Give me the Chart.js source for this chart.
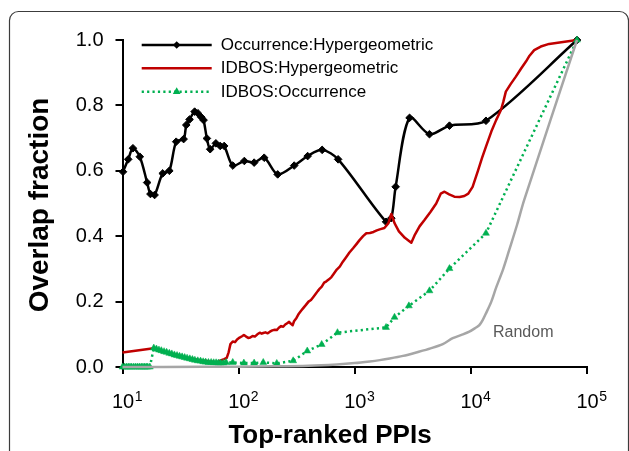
<!DOCTYPE html>
<html><head><meta charset="utf-8">
<script src="https://cdn.jsdelivr.net/npm/chart.js@4"></script>
<style>html,body{margin:0;padding:0;background:#fff;}canvas{display:block;}</style>
</head><body>
<canvas id="c" width="629" height="451"></canvas>
<script>
// ---------- DATA ----------
const seriesNames = ['Occurrence:Hypergeometric', 'IDBOS:Hypergeometric', 'IDBOS:Occurrence', 'Random'];
const xTitle = 'Top-ranked PPIs';
const yTitle = 'Overlap fraction';
const randomLabel = 'Random';
const xTickValues = [10, 100, 1000, 10000, 100000];
const xTickBase = '10';
const xTickExps = ['1', '2', '3', '4', '5'];
const yTickValues = [0, 0.2, 0.4, 0.6, 0.8, 1.0];

const occHypX = [10.1, 11.2, 12.3, 14.1, 16.3, 17.4, 18.9, 22.2, 25.3, 29.0, 33.6, 35.4, 37.8, 41.8, 44.6, 47.7, 49.9, 53.3, 56.9, 63.7, 69.4, 75.1, 89.2, 112, 136, 166, 217, 301, 393, 524, 719, 1860, 2065, 2250, 2965, 4400, 6540, 13490, 82000];
const occHypY = [0.597, 0.635, 0.669, 0.643, 0.564, 0.529, 0.526, 0.592, 0.600, 0.689, 0.697, 0.740, 0.757, 0.781, 0.776, 0.764, 0.755, 0.699, 0.666, 0.684, 0.676, 0.676, 0.616, 0.630, 0.625, 0.640, 0.589, 0.616, 0.645, 0.664, 0.635, 0.444, 0.455, 0.551, 0.762, 0.712, 0.738, 0.753, 1.0];

const idbosHypX = [10, 18.6, 20, 22, 24, 26, 28, 30, 33, 36, 40, 44, 48, 52, 56, 60, 65, 70, 75, 79, 82, 85, 89, 93, 97, 102, 107, 111, 116, 121, 126, 132, 138, 145, 152, 158, 163, 170, 178, 186, 195, 205, 213, 222, 232, 242, 252, 262, 272, 282, 292, 300, 315, 330, 345, 360, 380, 400, 420, 440, 460, 480, 500, 520, 545, 570, 600, 630, 660, 700, 743, 790, 840, 900, 967, 1030, 1100, 1180, 1258, 1350, 1450, 1550, 1640, 1800, 1950, 2065, 2200, 2400, 2700, 3070, 3300, 3615, 4000, 4500, 5030, 5500, 5930, 6500, 7210, 8000, 8790, 9500, 10350, 11500, 12500, 13490, 15000, 16500, 18150, 19000, 20000, 22000, 24400, 27000, 29800, 32000, 35100, 40000, 47200, 60000, 82000];
const idbosHypY = [0.044, 0.057, 0.052, 0.047, 0.045, 0.041, 0.038, 0.036, 0.031, 0.028, 0.025, 0.022, 0.020, 0.019, 0.017, 0.016, 0.014, 0.020, 0.024, 0.028, 0.045, 0.070, 0.078, 0.076, 0.084, 0.090, 0.094, 0.098, 0.093, 0.089, 0.090, 0.095, 0.093, 0.100, 0.105, 0.102, 0.104, 0.106, 0.103, 0.108, 0.112, 0.114, 0.113, 0.120, 0.125, 0.123, 0.130, 0.134, 0.138, 0.132, 0.128, 0.140, 0.150, 0.163, 0.172, 0.180, 0.190, 0.200, 0.205, 0.214, 0.223, 0.232, 0.240, 0.246, 0.258, 0.262, 0.268, 0.275, 0.285, 0.298, 0.307, 0.322, 0.335, 0.350, 0.363, 0.375, 0.388, 0.400, 0.409, 0.410, 0.413, 0.418, 0.421, 0.425, 0.440, 0.468, 0.440, 0.415, 0.395, 0.380, 0.405, 0.430, 0.450, 0.475, 0.500, 0.530, 0.536, 0.528, 0.521, 0.520, 0.523, 0.530, 0.551, 0.600, 0.640, 0.674, 0.720, 0.755, 0.786, 0.810, 0.842, 0.865, 0.888, 0.912, 0.934, 0.952, 0.969, 0.980, 0.988, 0.993, 1.0];

const idbosOccX = [10, 10.4, 10.8, 11.2, 11.6, 12, 12.5, 13, 13.5, 14, 14.5, 15, 15.5, 16, 16.5, 17.2, 18.6, 19.6, 20.6, 21.6, 22.8, 24, 25.3, 26.6, 28, 29.5, 31, 32.6, 34.3, 36, 38, 40, 42, 44.5, 47, 49.5, 52, 55, 58, 61, 64, 67, 70, 74, 78, 89, 111, 136, 163, 213, 295, 390, 519, 710, 1860, 2200, 2925, 4400, 6540, 13490, 82000];
const idbosOccY = [0, 0, 0, 0, 0, 0, 0, 0, 0, 0, 0, 0, 0, 0, 0, 0, 0.058, 0.055, 0.052, 0.050, 0.047, 0.045, 0.042, 0.040, 0.037, 0.035, 0.033, 0.031, 0.029, 0.027, 0.025, 0.023, 0.021, 0.019, 0.018, 0.016, 0.015, 0.014, 0.014, 0.013, 0.013, 0.012, 0.012, 0.012, 0.014, 0.014, 0.012, 0.012, 0.014, 0.011, 0.019, 0.049, 0.069, 0.105, 0.121, 0.152, 0.187, 0.233, 0.301, 0.409, 1.0];

const randomX = [10, 50, 100, 200, 400, 700, 1000, 1346, 1640, 2000, 2600, 3500, 4500, 5730, 6980, 8300, 9700, 11000, 11830, 12700, 13490, 15000, 16440, 19000, 21400, 25000, 28800, 82000];
const randomY = [0, 0.0005, 0.001, 0.002, 0.004, 0.008, 0.012, 0.017, 0.021, 0.026, 0.034, 0.046, 0.057, 0.070, 0.088, 0.098, 0.108, 0.120, 0.128, 0.145, 0.164, 0.200, 0.241, 0.300, 0.358, 0.435, 0.511, 1.0];

// ---------- STYLE ----------
const FONT = '"Liberation Sans", Arial, Helvetica, sans-serif';
const colBlack = '#000000', colRed = '#C00000', colGreen = '#00B050', colGray = '#A6A6A6';

const pts = (xs, ys) => xs.map((x, i) => ({x: x, y: ys[i]}));

const decor = {
  id: 'decor',
  beforeDraw(chart) {
    const ctx = chart.ctx;
    ctx.save();
    ctx.fillStyle = '#fff';
    ctx.fillRect(0, 0, chart.width, chart.height);
    ctx.strokeStyle = '#3c3c3c';
    ctx.lineWidth = 1.2;
    ctx.beginPath();
    ctx.moveTo(9.5, 470);
    ctx.lineTo(9.5, 21);
    ctx.arcTo(9.5, 11.5, 19, 11.5, 9);
    ctx.lineTo(619, 11.5);
    ctx.arcTo(628.5, 11.5, 628.5, 21, 9);
    ctx.lineTo(628.5, 470);
    ctx.stroke();
    ctx.restore();
  },
  afterDraw(chart) {
    const ctx = chart.ctx, xs = chart.scales.x;
    ctx.save();
    ctx.fillStyle = '#000';
    ctx.textBaseline = 'alphabetic';
    ctx.textAlign = 'left';
    xTickValues.forEach((v, i) => {
      const px = xs.getPixelForValue(v);
      ctx.font = '20px ' + FONT;
      const x0 = px - 10.5;
      ctx.fillText(xTickBase, x0, 408);
      const w = ctx.measureText(xTickBase).width;
      ctx.font = '14px ' + FONT;
      ctx.fillText(xTickExps[i], x0 + w + 0.5, 400.5);
    });
    // axis titles
    ctx.textAlign = 'center';
    ctx.font = 'bold 26px ' + FONT;
    ctx.fillText(xTitle, 330, 443);
    ctx.save();
    ctx.translate(47.5, 205);
    ctx.rotate(-Math.PI / 2);
    ctx.font = 'bold 28px ' + FONT;
    ctx.fillText(yTitle, 0, 0);
    ctx.restore();
    // Random label
    ctx.font = '16px ' + FONT;
    ctx.fillStyle = '#595959';
    ctx.textAlign = 'left';
    ctx.fillText(randomLabel, 493, 337);
    // legend
    const lx0 = 141.7, lx1 = 211.7, mx = 176.7, tx = 220.7;
    const rows = [45, 68.3, 91.7];
    for (let i = 0; i < 3; i++) {
      const ds = chart.data.datasets[i];
      const y = rows[i];
      ctx.save();
      ctx.strokeStyle = ds.borderColor;
      ctx.lineWidth = ds.borderWidth;
      ctx.setLineDash(ds.borderDash || []);
      ctx.beginPath();
      ctx.moveTo(lx0, y);
      ctx.lineTo(lx1, y);
      ctx.stroke();
      ctx.setLineDash([]);
      ctx.fillStyle = ds.borderColor;
      if (ds.pointStyle === 'rectRot') {
        const r = 3.8;
        ctx.beginPath();
        ctx.moveTo(mx, y - r); ctx.lineTo(mx + r, y); ctx.lineTo(mx, y + r); ctx.lineTo(mx - r, y);
        ctx.closePath(); ctx.fill();
      } else if (ds.pointStyle === 'triangle') {
        const r = 4.5;
        ctx.beginPath();
        ctx.moveTo(mx, y - r);
        ctx.lineTo(mx + r * 0.866, y + r * 0.5);
        ctx.lineTo(mx - r * 0.866, y + r * 0.5);
        ctx.closePath(); ctx.fill();
      }
      ctx.restore();
      ctx.font = '17px ' + FONT;
      ctx.fillStyle = '#000';
      ctx.textBaseline = 'middle';
      ctx.fillText(ds.label, tx, y + 0.5);
    }
    ctx.restore();
  }
};

new Chart(document.getElementById('c'), {
  type: 'line',
  data: {
    datasets: [
      {label: seriesNames[0], data: pts(occHypX, occHypY), borderColor: colBlack, backgroundColor: colBlack, borderWidth: 2.5,
       pointStyle: 'rectRot', pointRadius: 3.8, pointBorderWidth: 1, pointBackgroundColor: colBlack, pointBorderColor: colBlack,
       tension: 0.3, clip: false, order: 3},
      {label: seriesNames[1], data: pts(idbosHypX, idbosHypY), borderColor: colRed, backgroundColor: colRed, borderWidth: 2.5,
       pointRadius: 0, tension: 0, clip: false, order: 2, borderJoinStyle: 'round'},
      {label: seriesNames[2], data: pts(idbosOccX, idbosOccY), borderColor: colGreen, backgroundColor: colGreen, borderWidth: 2.5,
       borderDash: [2.2, 3.2], pointStyle: 'triangle', pointRadius: 4, pointBorderWidth: 0.5,
       pointBackgroundColor: colGreen, pointBorderColor: colGreen, tension: 0, clip: false, order: 1},
      {label: seriesNames[3], data: pts(randomX, randomY), borderColor: colGray, backgroundColor: colGray, borderWidth: 2.5,
       pointRadius: 0, tension: 0.3, clip: false, order: 0}
    ]
  },
  options: {
    responsive: false,
    animation: false,
    devicePixelRatio: 1,
    layout: {padding: {left: 0, right: 42, top: 40, bottom: 0}},
    plugins: {legend: {display: false}, tooltip: {enabled: false}, title: {display: false}},
    scales: {
      x: {
        type: 'logarithmic', min: 10, max: 100000,
        afterBuildTicks: s => { s.ticks = xTickValues.map(v => ({value: v, major: true})); },
        afterFit: s => { s.height = 84; },
        ticks: {display: false, autoSkip: false},
        grid: {display: true, drawOnChartArea: false, drawTicks: true, tickLength: 7, color: '#000', lineWidth: 2},
        border: {display: true, color: '#000', width: 2}
      },
      y: {
        type: 'linear', min: 0, max: 1,
        afterBuildTicks: s => { s.ticks = yTickValues.map(v => ({value: v})); },
        afterFit: s => { s.width = 122.5; },
        ticks: {autoSkip: false, padding: 12, color: '#000', font: {family: FONT, size: 20},
                callback: v => Number(v).toFixed(1)},
        grid: {display: true, drawOnChartArea: false, drawTicks: true, tickLength: 7, color: '#000', lineWidth: 2},
        border: {display: true, color: '#000', width: 2}
      }
    }
  },
  plugins: [decor]
});
</script></body></html>
